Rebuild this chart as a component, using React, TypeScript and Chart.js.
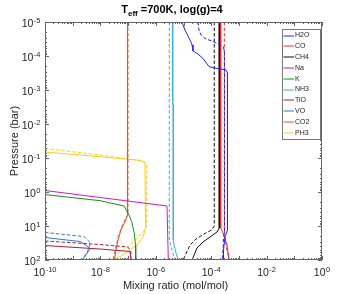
import React, { useEffect, useRef } from 'react';
import { Chart, registerables } from 'chart.js';

Chart.register(...registerables);

const speciesNames = ['H2O', 'CO', 'CH4', 'Na', 'K', 'NH3', 'TiO', 'VO', 'CO2', 'PH3'];
const speciesColors = ['#2323f0', '#f02828', '#111111', '#cc19cc', '#1a8c1a', '#3cb0e0', '#a81c40', '#2a7cc8', '#e05a28', '#ffcc1a'];

const xTickExps = [-10, -8, -6, -4, -2, 0];
const yTickExps = [-5, -4, -3, -2, -1, 0, 1, 2];

// Mixing ratio (mol/mol) and pressure (bar)
const h2oX = [8.8e-6, 1.13e-5, 1.72e-5, 2.03e-5, 2.2e-5, 3.3e-5, 5.1e-5, 7.1e-5, 8.3e-5, 1.26e-4, 2.26e-4, 3.42e-4, 3.87e-4, 3.87e-4, 3.15e-4, 2.78e-4, 2.78e-4];
const h2oP = [1e-5, 1.72e-5, 3.4e-5, 4.7e-5, 7.1e-5, 8.7e-5, 1.19e-4, 1.72e-4, 2.04e-4, 2.25e-4, 2.41e-4, 2.58e-4, 3.16e-4, 13.1, 21.1, 50.8, 100];
const h2oDashX = [3.33e-5, 3.63e-5, 4.28e-5, 5.97e-5, 1.16e-4, 2.08e-4, 2.78e-4, 3.02e-4, 3.02e-4, 2.78e-4, 2.56e-4];
const h2oDashP = [1e-5, 1.72e-5, 2.41e-5, 3.05e-5, 3.75e-5, 4.75e-5, 5.43e-5, 8.2e-5, 13.1, 25.8, 100];

const coX = [2.2e-4, 2.2e-4, 2.67e-4, 3.72e-4, 4.4e-4];
const coP = [1e-5, 11.5, 16.1, 36.2, 100];
const coDashX = [2.97e-4, 2.97e-4, 3.15e-4, 3.72e-4, 4.58e-4];
const coDashP = [1e-5, 13.1, 22.5, 50.8, 100];

const ch4X = [1.96e-4, 1.96e-4, 1.62e-4, 9.05e-5, 5.06e-5, 3.07e-5, 2.03e-5];
const ch4P = [1e-5, 11.5, 15, 21.1, 29.6, 44.4, 100];
const ch4DashX = [1.29e-4, 1.29e-4, 1.03e-4, 5.5e-5, 2.83e-5, 1.72e-5, 1.04e-5, 1.0e-5];
const ch4DashP = [1e-5, 10, 13.1, 17.2, 24.1, 36.2, 87.3, 100];

const naX = [1e-10, 2.54e-6, 2.83e-6];
const naP = [0.904, 2.58, 100];

const kX = [1e-10, 9.7e-9, 7.1e-8, 1.02e-7, 1.35e-7, 1.67e-7, 1.85e-7, 1.88e-7];
const kP = [1.19, 1.8, 2.58, 4.23, 7.48, 16.4, 36.2, 100];

const nh3X = [4.07e-6, 4.07e-6, 4.28e-6, 4.28e-6, 4.73e-6, 5.36e-6, 6.33e-6];
const nh3P = [1e-5, 2.76e-3, 2.76e-3, 25.8, 41.5, 62.2, 100];
const nh3DashX = [3.07e-6, 3.07e-6, 3.4e-6, 4.01e-6, 4.93e-6];
const nh3DashP = [1e-5, 22.5, 36.2, 58.2, 100];

const tioX = [1e-10, 9.7e-9, 1.17e-7, 1.27e-7];
const tioP = [37.5, 47.5, 56.2, 100];
const tioDashX = [1e-10, 9.7e-9, 9.9e-8, 1.27e-7, 1.27e-7];
const tioDashP = [27.6, 35, 41.5, 58.2, 100];

const voX = [1e-10, 1.84e-9, 3.72e-9, 4.2e-9, 2.46e-9, 2.17e-9];
const voP = [21.8, 28.6, 41.5, 47.5, 90.4, 100];
const voDashX = [1e-10, 2.56e-9, 4.4e-9, 3.28e-9, 2.08e-9];
const voDashP = [15.5, 20.4, 31.6, 62.2, 100];

const co2X = [9.5e-8, 9.5e-8, 7.7e-8, 5.54e-8, 4.32e-8, 3.66e-8, 3.23e-8];
const co2P = [1e-5, 4.75, 7.63, 13.1, 25.8, 50.8, 100];
const co2DashX = [9.9e-8, 9.9e-8, 8.4e-8, 6.03e-8, 4.5e-8, 3.66e-8, 3.1e-8, 2.85e-8];
const co2DashP = [1e-5, 4.75, 5.82, 10, 19.7, 38.8, 76.2, 100];

const ph3X = [1e-10, 9.7e-9, 3.1e-7, 4.07e-7, 4.25e-7, 3.54e-7, 2.34e-7, 1.17e-7, 5.1e-8, 2.56e-8];
const ph3P = [0.0667, 0.0916, 0.1186, 0.15, 10.5, 20.6, 32.3, 50.8, 80, 100];
const ph3DashX = [1e-10, 9.7e-9, 3.54e-7, 4.69e-7, 4.69e-7, 3.54e-7, 1.54e-7, 6.7e-8, 3.37e-8, 2.22e-8];
const ph3DashP = [0.0526, 0.0817, 0.1225, 0.14, 10, 15, 29, 50.8, 76.2, 100];

const solidSeries = [[h2oX, h2oP], [coX, coP], [ch4X, ch4P], [naX, naP], [kX, kP], [nh3X, nh3P], [tioX, tioP], [voX, voP], [co2X, co2P], [ph3X, ph3P]];
const dashSeries = [[h2oDashX, h2oDashP], [coDashX, coDashP], [ch4DashX, ch4DashP], null, null, [nh3DashX, nh3DashP], [tioDashX, tioDashP], [voDashX, voDashP], [co2DashX, co2DashP], [ph3DashX, ph3DashP]];

const FONT = '"Liberation Sans", Arial, Helvetica, sans-serif';

function pts(xs: number[], ps: number[]) {
  return xs.map((x, i) => ({ x, y: ps[i] }));
}

function drawPow(ctx: CanvasRenderingContext2D, exp: number, x: number, y: number, align: 'center' | 'right') {
  const baseFont = `10.5px ${FONT}`;
  const expFont = `7.5px ${FONT}`;
  const expStr = String(exp);
  ctx.font = baseFont;
  const bw = ctx.measureText('10').width;
  ctx.font = expFont;
  const ew = ctx.measureText(expStr).width;
  const total = bw + ew + 0.5;
  const x0 = align === 'center' ? x - total / 2 : x - total;
  ctx.textAlign = 'left';
  ctx.textBaseline = 'alphabetic';
  ctx.font = baseFont;
  ctx.fillText('10', x0, y);
  ctx.font = expFont;
  ctx.fillText(expStr, x0 + bw + 0.5, y - 4.5);
}

const matlabAxes = {
  id: 'matlabAxes',
  afterDraw(chart: any) {
    const { ctx, chartArea } = chart;
    const { left, right, top, bottom } = chartArea;
    const xs = chart.scales.x;
    const ys = chart.scales.y;
    ctx.save();
    ctx.strokeStyle = '#666';
    ctx.lineWidth = 1;
    ctx.beginPath();
    for (let d = -10; d <= 0; d++) {
      for (let m = 1; m <= 9; m++) {
        if (d === 0 && m > 1) break;
        const px = Math.round(xs.getPixelForValue(m * Math.pow(10, d))) + 0.5;
        const len = m === 1 ? 4 : 2;
        ctx.moveTo(px, bottom);
        ctx.lineTo(px, bottom - len);
        ctx.moveTo(px, top);
        ctx.lineTo(px, top + len);
      }
    }
    for (let d = -5; d <= 2; d++) {
      for (let m = 1; m <= 9; m++) {
        if (d === 2 && m > 1) break;
        const py = Math.round(ys.getPixelForValue(m * Math.pow(10, d))) + 0.5;
        const len = m === 1 ? 4 : 2;
        ctx.moveTo(left, py);
        ctx.lineTo(left + len, py);
        ctx.moveTo(right, py);
        ctx.lineTo(right - len, py);
      }
    }
    ctx.stroke();
    ctx.strokeRect(left + 0.5, top + 0.5, right - left - 1, bottom - top - 1);

    // tick labels
    ctx.fillStyle = '#262626';
    xTickExps.forEach((e) => {
      drawPow(ctx, e, xs.getPixelForValue(Math.pow(10, e)), bottom + 16, 'center');
    });
    yTickExps.forEach((e) => {
      drawPow(ctx, e, left - 4.5, ys.getPixelForValue(Math.pow(10, e)) + 5, 'right');
    });

    // axis titles
    ctx.font = `11px ${FONT}`;
    ctx.textAlign = 'center';
    ctx.textBaseline = 'alphabetic';
    ctx.fillText('Mixing ratio (mol/mol)', 175.5, 289);
    ctx.save();
    ctx.translate(18, 141);
    ctx.rotate(-Math.PI / 2);
    ctx.fillText('Pressure (bar)', 0, 0);
    ctx.restore();

    // title
    ctx.fillStyle = '#000';
    ctx.textAlign = 'left';
    const t1 = 'T';
    const t2 = 'eff';
    const t3 = ' =700K, log(g)=4';
    ctx.font = `bold 11px ${FONT}`;
    const w1 = ctx.measureText(t1).width;
    const w3 = ctx.measureText(t3).width;
    ctx.font = `bold 8px ${FONT}`;
    const w2 = ctx.measureText(t2).width;
    const tx = 172 - (w1 + w2 + w3) / 2;
    ctx.font = `bold 11px ${FONT}`;
    ctx.fillText(t1, tx, 13);
    ctx.font = `bold 8px ${FONT}`;
    ctx.fillText(t2, tx + w1, 16);
    ctx.font = `bold 11px ${FONT}`;
    ctx.fillText(t3, tx + w1 + w2, 13);

    // legend
    const lx = 282.5, ly = 29.5, lw = 38, lh = 110;
    ctx.fillStyle = '#fff';
    ctx.fillRect(lx, ly, lw, lh);
    ctx.strokeStyle = '#777';
    ctx.strokeRect(lx, ly, lw, lh);
    ctx.font = `7px ${FONT}`;
    ctx.textBaseline = 'middle';
    speciesNames.forEach((name, i) => {
      const y = 35.5 + i * 10.8;
      ctx.strokeStyle = speciesColors[i];
      ctx.beginPath();
      ctx.moveTo(283.5, Math.round(y));
      ctx.lineTo(294, Math.round(y));
      ctx.stroke();
      ctx.fillStyle = '#222';
      ctx.fillText(name, 295, y);
    });
    ctx.restore();
  },
};

export default function App() {
  const ref = useRef<HTMLCanvasElement>(null);
  useEffect(() => {
    const datasets: any[] = [];
    solidSeries.forEach((s, i) => {
      datasets.push({
        label: speciesNames[i],
        data: pts(s[0], s[1]),
        borderColor: speciesColors[i],
        borderWidth: 1,
        pointRadius: 0,
        fill: false,
      });
      const d = dashSeries[i];
      if (d) {
        datasets.push({
          label: speciesNames[i] + ' dashed',
          data: pts(d[0], d[1]),
          borderColor: speciesColors[i],
          borderWidth: 1,
          borderDash: [3.5, 2],
          pointRadius: 0,
          fill: false,
        });
      }
    });
    const chart = new Chart(ref.current as HTMLCanvasElement, {
      type: 'line',
      data: { datasets },
      options: {
        animation: false,
        responsive: false,
        devicePixelRatio: 1,
        layout: { padding: { left: 45, right: 32, top: 22, bottom: 34 } },
        scales: {
          x: { type: 'logarithmic', min: 1e-10, max: 1, display: false },
          y: { type: 'logarithmic', min: 1e-5, max: 100, reverse: true, display: false },
        },
        plugins: { legend: { display: false }, title: { display: false }, tooltip: { enabled: false } },
        elements: { point: { radius: 0 }, line: { tension: 0 } },
      } as any,
      plugins: [matlabAxes],
    });
    return () => chart.destroy();
  }, []);
  return (
    <div style={{ position: 'fixed', left: 0, top: 0, width: 354, height: 294, background: '#fff' }}>
      <canvas ref={ref} width={354} height={294} style={{ width: 354, height: 294, display: 'block' }} />
    </div>
  );
}
